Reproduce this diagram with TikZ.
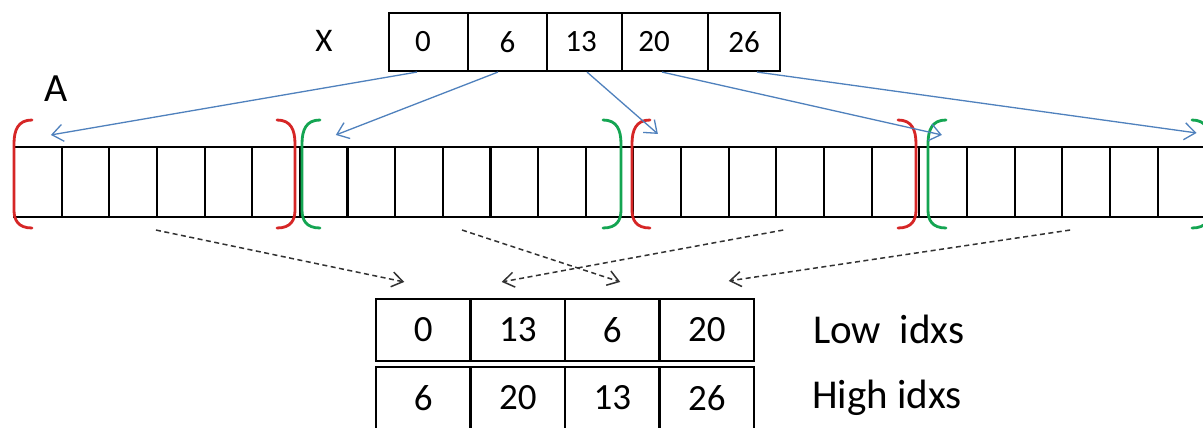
\documentclass[tikz,border=0pt]{standalone}
\usepackage{fontspec}
\setmainfont{Carlito}
\usetikzlibrary{arrows.meta}
\definecolor{brRed}{RGB}{214,38,38}
\definecolor{brGreen}{RGB}{20,165,82}
\definecolor{ptrBlue}{RGB}{79,129,189}
\definecolor{dashGray}{RGB}{50,50,50}

\begin{document}
\begin{tikzpicture}[x=1pt,y=-1pt,
  xcell/.style={draw=black,line width=2.1pt,inner sep=0pt,minimum height=58pt,minimum width=#1,
                font=\fontsize{31}{37}\selectfont},
  acell/.style={draw=black,line width=2.1pt,inner sep=0pt,minimum height=70pt,minimum width=47.65pt},
  tcell/.style={draw=black,line width=2.1pt,inner sep=0pt,minimum height=62pt,minimum width=94.5pt,
                font=\fontsize{37}{43}\selectfont},
  lbl/.style={inner sep=0pt,font=\fontsize{#1}{#1}\selectfont},
  ptr/.style={ptrBlue,line width=1.3pt,-{Straight Barb[length=11pt,width=17pt]}},
  gather/.style={dashGray,line width=1.5pt,dash pattern=on 5pt off 3.5pt,
                 -{Straight Barb[length=11pt,width=15pt]}},
  brk/.style={line width=2.8pt,line cap=round},
  lbr/.pic={\draw[brk] (18,-54) .. controls (4,-54) and (0,-44) .. (0,-30) -- (0,36)
                 .. controls (0,46) and (4,54) .. (18,54);},
  rbr/.pic={\draw[brk] (-18,-54) .. controls (-4,-54) and (0,-44) .. (0,-30) -- (0,36)
                 .. controls (0,46) and (-4,54) .. (-18,54);}]

\useasboundingbox (0,0) rectangle (1203,428);
\fill[white] (0,0) rectangle (1203,428);
\clip (0,0) rectangle (1203,428);

% index array X
\node[lbl=33,anchor=base] (xname) at (324,52) {X};
\node[xcell=79pt] (x0)  at (428.5,42) {\hspace*{-11pt}0};
\node[xcell=79pt] (x6)  at (507.5,42) {6};
\node[xcell=75pt] (x13) at (584.5,42) {\hspace*{-7pt}13};
\node[xcell=86pt] (x20) at (665,42)   {\hspace*{-22pt}20};
\node[xcell=72pt] (x26) at (744,42)   {26};

% data array A
\node[lbl=40,anchor=base] (aname) at (56,102) {A};
\foreach \i in {0,...,24}
  \node[acell] (a\i) at ({37.8+47.65*\i},182) {};

% segment brackets
\pic[brRed]   at (14,174)   {lbr};
\pic[brRed]   at (295,174)  {rbr};
\pic[brGreen] at (302,174)  {lbr};
\pic[brGreen] at (621,174)  {rbr};
\pic[brRed]   at (632,174)  {lbr};
\pic[brRed]   at (916,174)  {rbr};
\pic[brGreen] at (928,174)  {lbr};
\pic[brGreen] at (1210,174) {rbr};

% pointers from X into A
\coordinate (p0)  at ([shift={(38,-11)}]a0.north west);
\coordinate (p6)  at ([shift={(37,-11)}]a6.north west);
\coordinate (p13) at ([shift={(25.5,-12)}]a13.north west);
\coordinate (p20) at ([shift={(23.6,-11)}]a19.north west);
\coordinate (p26) at ([shift={(40,-13)}]a24.north west);
\draw[ptr] ([xshift=-11.5pt]x0.south) -- (p0);
\draw[ptr] ([xshift=-9.5pt]x6.south)  -- (p6);
\draw[ptr] ([xshift=2.5pt]x13.south)  -- (p13);
\draw[ptr] ([xshift=-3pt]x20.south)   -- (p20);
\draw[ptr] ([xshift=13pt]x26.south)   -- (p26);

% low / high index table
\foreach \v [count=\k from 0] in {0,13,6,20}
  \node[tcell] (lo\k) at ({423.25+94.5*\k},330) {\v};
\foreach \v [count=\k from 0] in {6,20,13,26}
  \node[tcell] (hi\k) at ({423.25+94.5*\k},398) {\v};
\node[lbl=41,anchor=base west] (lowname)  at (813,343) {Low\ \ idxs};
\node[lbl=41,anchor=base west] (highname) at (812,408) {High idxs};

% segments gathered into the table
\draw[gather] ([shift={(-2,12)}]a2.south east) -- ([shift={(-19,-16)}]lo0.north);
\draw[gather] ([shift={(-4.6,12)}]a9.south)    -- ([shift={(8,-16)}]lo2.north);
\draw[gather] ([shift={(-17,12)}]a16.south)    -- ([shift={(-16,-16)}]lo1.north);
\draw[gather] ([shift={(-16,12)}]a22.south)    -- ([shift={(22,-17)}]lo3.north);
\end{tikzpicture}
\end{document}
